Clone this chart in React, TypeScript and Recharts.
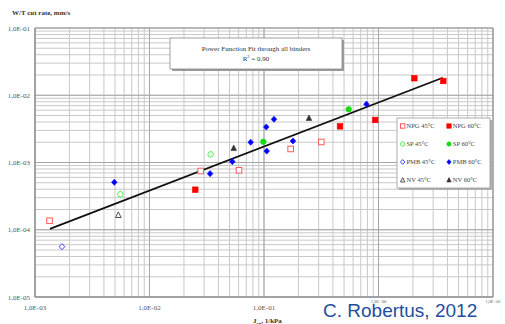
import React from 'react';
import { ScatterChart, Scatter, XAxis, YAxis, CartesianGrid, ReferenceLine } from 'recharts';

// ---- data (J_sn in 1/kPa, W/T cut rate in mm/s) ----
const npg45 = [
  { x: 1.34e-3, y: 1.36e-4 },
  { x: 2.8e-2, y: 7.47e-4 },
  { x: 6.05e-2, y: 7.66e-4 },
  { x: 0.171, y: 1.59e-3 },
  { x: 0.3165, y: 2.02e-3 },
];
const npg60 = [
  { x: 2.51e-2, y: 3.94e-4 },
  { x: 0.461, y: 3.45e-3 },
  { x: 0.936, y: 4.29e-3 },
  { x: 2.055, y: 1.79e-2 },
  { x: 3.68, y: 1.63e-2 },
];
const sp45 = [
  { x: 5.56e-3, y: 3.37e-4 },
  { x: 3.42e-2, y: 1.32e-3 },
];
const sp60 = [
  { x: 9.86e-2, y: 2.04e-3 },
  { x: 0.549, y: 6.18e-3 },
];
const pmb45 = [{ x: 1.72e-3, y: 5.6e-5 }];
const pmb60 = [
  { x: 4.93e-3, y: 5.08e-4 },
  { x: 3.38e-2, y: 6.82e-4 },
  { x: 5.29e-2, y: 1.03e-3 },
  { x: 7.65e-2, y: 2.0e-3 },
  { x: 0.1047, y: 3.37e-3 },
  { x: 0.1223, y: 4.39e-3 },
  { x: 0.1056, y: 1.48e-3 },
  { x: 0.179, y: 2.09e-3 },
  { x: 0.785, y: 7.36e-3 },
];
const nv45 = [{ x: 5.34e-3, y: 1.66e-4 }];
const nv60 = [
  { x: 5.44e-2, y: 1.64e-3 },
  { x: 0.247, y: 4.59e-3 },
];
const fitLine = [
  { x: 1.35e-3, y: 1.03e-4 },
  { x: 3.64, y: 1.82e-2 },
];

const xDecades = [1e-3, 1e-2, 1e-1, 1, 10];
const xDecadeLabels = ['1,0E-03', '1,0E-02', '1,0E-01', '1,0E+00', '1,0E+01'];
const yDecades = [1e-5, 1e-4, 1e-3, 1e-2, 1e-1];
const yDecadeLabels = ['1,0E-05', '1,0E-04', '1,0E-03', '1,0E-02', '1,0E-01'];
const minorMultipliers = [1, 2, 3, 4, 5, 6, 7, 8, 9];

const legendItems = [
  { label: 'NPG 45°C', kind: 'square', open: true, color: '#ff5a5a' },
  { label: 'NPG 60°C', kind: 'square', open: false, color: '#ff0000' },
  { label: 'SP 45°C', kind: 'circle', open: true, color: '#55ee55' },
  { label: 'SP 60°C', kind: 'circle', open: false, color: '#11dd11' },
  { label: 'PMB 45°C', kind: 'diamond', open: true, color: '#4040ff' },
  { label: 'PMB 60°C', kind: 'diamond', open: false, color: '#0000ff' },
  { label: 'NV 45°C', kind: 'triangle', open: true, color: '#505050' },
  { label: 'NV 60°C', kind: 'triangle', open: false, color: '#333333' },
];

function buildTicks(decades: number[]) {
  const out: number[] = [];
  for (let i = 0; i < decades.length - 1; i++) {
    for (const m of minorMultipliers) out.push(m * decades[i]);
  }
  out.push(decades[decades.length - 1]);
  return out;
}
const xTicks = buildTicks(xDecades);
const yTicks = buildTicks(yDecades);

function decadeIndex(v: number, decades: number[]) {
  for (let i = 0; i < decades.length; i++) {
    if (Math.abs(v - decades[i]) / decades[i] < 1e-6) return i;
  }
  return -1;
}

function Marker({ kind, open, color, cx, cy, s = 2.8 }: any) {
  const fill = open ? '#ffffff' : color;
  const stroke = color;
  const sw = open ? 1 : 0.6;
  if (kind === 'square')
    return <rect x={cx - s} y={cy - s} width={2 * s} height={2 * s} fill={fill} stroke={stroke} strokeWidth={sw} />;
  if (kind === 'circle') return <circle cx={cx} cy={cy} r={s} fill={fill} stroke={stroke} strokeWidth={sw} />;
  if (kind === 'diamond')
    return (
      <polygon
        points={`${cx},${cy - s * 1.1} ${cx + s},${cy} ${cx},${cy + s * 1.1} ${cx - s},${cy}`}
        fill={fill}
        stroke={stroke}
        strokeWidth={sw}
      />
    );
  return (
    <polygon
      points={`${cx},${cy - s * 1.1} ${cx + s},${cy + s * 0.9} ${cx - s},${cy + s * 0.9}`}
      fill={fill}
      stroke={stroke}
      strokeWidth={sw}
    />
  );
}

const shapeFor = (idx: number) => (props: any) =>
  <Marker {...legendItems[idx]} cx={props.cx} cy={props.cy} />;

const XTick = (props: any) => {
  const i = decadeIndex(props.payload.value, xDecades);
  if (i < 0) return null;
  if (i >= 3) {
    return (
      <text x={props.x} y={props.y + 6} textAnchor="middle" fontSize={4.6} fill="#666" fontFamily="Liberation Serif, serif">
        {xDecadeLabels[i]}
      </text>
    );
  }
  return (
    <text x={props.x} y={props.y + 13} textAnchor="middle" fontSize={7} fill="#555" fontFamily="Liberation Serif, serif">
      {xDecadeLabels[i]}
    </text>
  );
};

const YTick = (props: any) => {
  const i = decadeIndex(props.payload.value, yDecades);
  if (i < 0) return null;
  return (
    <text x={props.x - 5} y={props.y + 2.5} textAnchor="end" fontSize={7} fill="#555" fontFamily="Liberation Serif, serif">
      {yDecadeLabels[i]}
    </text>
  );
};

const series = [npg45, npg60, sp45, sp60, pmb45, pmb60, nv45, nv60];

export default function App() {
  return (
    <div style={{ position: 'absolute', left: 0, top: 0, width: 505, height: 324, background: '#fff' }}>
      <ScatterChart width={505} height={324} margin={{ top: 28, right: 12, left: 0, bottom: 0 }}>
        <CartesianGrid stroke="#c8c8c8" strokeWidth={1} horizontalValues={yTicks} verticalValues={xTicks} />
        {xDecades.slice(1, -1).map((v) => (
          <ReferenceLine key={'xd' + v} x={v} stroke="#a6a6a6" strokeWidth={1} />
        ))}
        {yDecades.slice(1, -1).map((v) => (
          <ReferenceLine key={'yd' + v} y={v} stroke="#a6a6a6" strokeWidth={1} />
        ))}
        <ReferenceLine x={10} stroke="#8c8c8c" strokeWidth={1.2} />
        <ReferenceLine y={0.1} stroke="#8c8c8c" strokeWidth={1.2} />
        <XAxis
          type="number"
          dataKey="x"
          scale="log"
          domain={[1e-3, 10]}
          ticks={xTicks}
          interval={0}
          allowDataOverflow
          height={27}
          tickSize={0}
          tickMargin={0}
          tickLine={false}
          axisLine={{ stroke: '#8c8c8c', strokeWidth: 1.5 }}
          tick={<XTick />}
        />
        <YAxis
          type="number"
          dataKey="y"
          scale="log"
          domain={[1e-5, 0.1]}
          ticks={yTicks}
          interval={0}
          allowDataOverflow
          width={35}
          tickSize={0}
          tickMargin={0}
          tickLine={false}
          axisLine={{ stroke: '#8c8c8c', strokeWidth: 1.5 }}
          tick={<YTick />}
        />
        <Scatter
          data={fitLine}
          line={{ stroke: '#111', strokeWidth: 1.8 }}
          shape={() => null}
          isAnimationActive={false}
        />
        {series.map((d, i) => (
          <Scatter key={i} data={d} shape={shapeFor(i)} isAnimationActive={false} />
        ))}
      </ScatterChart>
      <svg
        width={505}
        height={324}
        style={{ position: 'absolute', left: 0, top: 0, pointerEvents: 'none' }}
        fontFamily="Liberation Serif, serif"
      >
        <text x={12} y={15} fontSize={7} fontWeight="bold" fill="#333">
          W/T cut rate, mm/s
        </text>
        <text x={253} y={323} fontSize={7} fontWeight="bold" fill="#333">
          J<tspan fontSize={5} dy={1.5}>sn</tspan>
          <tspan dy={-1.5}>, 1/kPa</tspan>
        </text>
        {/* annotation box */}
        <rect x={172} y={40} width={172} height={31} fill="#9a9a9a" />
        <rect x={170} y={38} width={172} height={31} fill="#fff" stroke="#8a8a8a" strokeWidth={0.8} />
        <text x={256} y={50.5} fontSize={7} textAnchor="middle" fill="#333">
          Power Function Fit through all binders
        </text>
        <text x={256} y={61} fontSize={7} textAnchor="middle" fill="#333">
          R<tspan fontSize={4.5} dy={-3}>2</tspan>
          <tspan dy={3}> = 0.90</tspan>
        </text>
        {/* legend */}
        <rect x={399} y={120} width={93} height={70} fill="#b0b0b0" />
        <rect x={397} y={118} width={93} height={70} fill="#fff" stroke="#9a9a9a" strokeWidth={0.8} />
        {legendItems.map((it, i) => {
          const col = i % 2;
          const row = Math.floor(i / 2);
          const mx = col === 0 ? 402.7 : 449;
          const my = 126 + row * 18;
          return (
            <g key={it.label}>
              <Marker {...it} cx={mx} cy={my} s={2.2} />
              <text x={mx + 3.8} y={my + 2.3} fontSize={6.5} fill="#444">
                {it.label}
              </text>
            </g>
          );
        })}
        <text x={323} y={317} fontSize={19} fill="#1f4e9e" fontFamily="Liberation Sans, Arial, sans-serif">
          C. Robertus, 2012
        </text>
      </svg>
    </div>
  );
}
